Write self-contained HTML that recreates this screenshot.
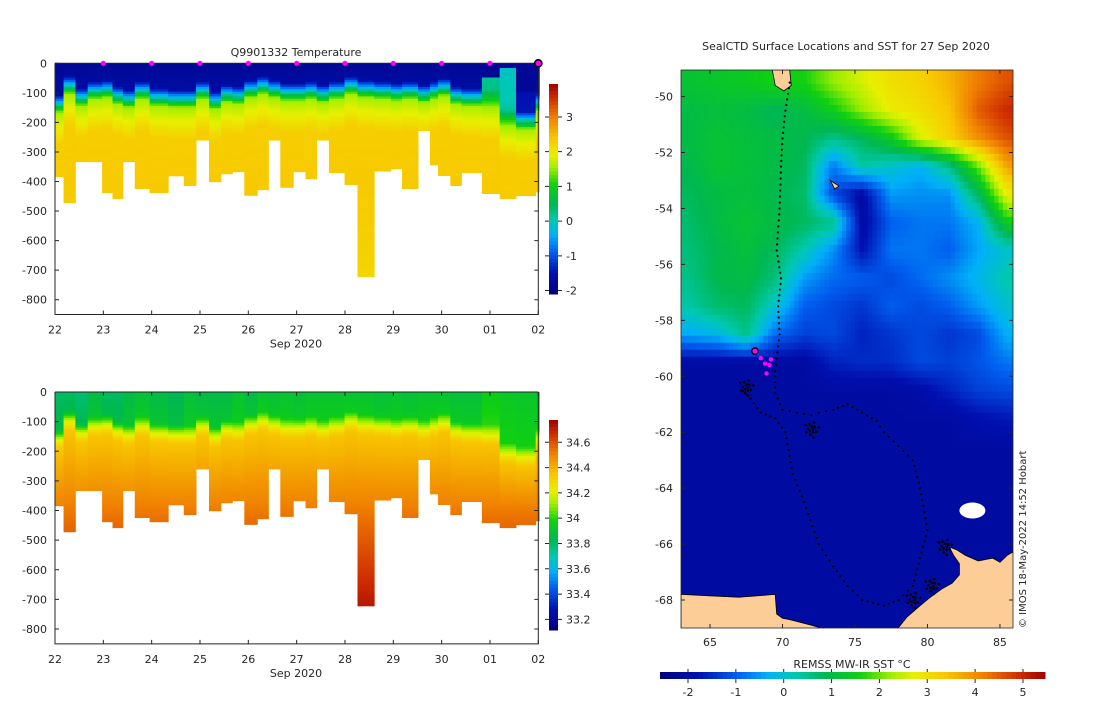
<!DOCTYPE html>
<html><head><meta charset="utf-8">
<style>
html,body{margin:0;padding:0;background:#fff;}
body{width:1100px;height:700px;overflow:hidden;font-family:"DejaVu Sans","Liberation Sans",sans-serif;}
svg text{font-family:"DejaVu Sans","Liberation Sans",sans-serif;fill:#262626;}
</style></head>
<body>
<svg id="fig" width="1100" height="700" viewBox="0 0 1100 700" xmlns="http://www.w3.org/2000/svg">
<defs><clipPath id="mapclip"><rect x="681" y="70" width="332" height="558"/></clipPath></defs>
<g id="gT"></g>
<g id="gS"></g>
<g id="gMc" clip-path="url(#mapclip)"></g>
<g id="gM"></g>
</svg>
<script>
// ---------- section data ----------
const colStart=[0,0.177,0.422,0.676,0.975,1.19,1.405,1.651,1.958,2.343,2.665,2.919,3.187,3.433,3.671,3.917,4.186,4.416,4.662,4.931,5.184,5.415,5.668,5.991,6.259,6.605,6.951,7.181,7.512,7.757,7.926,8.18,8.41,8.833,9.201,9.539,9.946];
const colEnd=10.02;
const maxDepth=[384,472,333,333,438,458,333,424,438,381,414,260,401,374,367,447,428,260,420,367,391,260,370,411,722,365,357,424,228,344,380,414,370,441,458,448,435];
const clineDepth=[152,90,130,107,102,124,135,107,130,135,135,107,141,118,124,102,90,102,113,113,107,118,107,90,102,107,113,107,118,107,96,124,130,135,198,209,147];
const surfTemp=[-1.8,-1.8,-1.8,-1.8,-1.8,-1.8,-1.8,-1.8,-1.8,-1.8,-1.8,-1.8,-1.8,-1.8,-1.8,-1.8,-1.8,-1.8,-1.8,-1.8,-1.8,-1.8,-1.8,-1.8,-1.8,-1.8,-1.8,-1.8,-1.8,-1.8,-1.8,-1.8,-1.8,0.1,-0.1,-1.6,-1.8];
const surfTop=[0,0,0,0,0,0,0,0,0,0,0,0,0,0,0,0,0,0,0,0,0,0,0,0,0,0,0,0,0,0,0,0,0,50,15,95,0];
const surfSal=[33.8,33.8,33.78,33.85,33.8,33.8,33.85,33.88,33.85,33.82,33.88,33.85,33.85,33.85,33.9,33.85,33.9,33.88,33.9,33.88,33.9,33.9,33.9,33.9,33.9,33.88,33.9,33.88,33.9,33.9,33.9,33.88,33.88,33.95,33.93,33.92,33.9];
const dayTicks=["22","23","24","25","26","27","28","29","30","01","02"];
const depthTicks=[0,-100,-200,-300,-400,-500,-600,-700,-800];
const markerDays=[1,2,3,4,5,6,7,8,9];
const tempTicks=[3,2,1,0,-1,-2];
const salTicks=["34.6","34.4","34.2","34","33.8","33.6","33.4","33.2"];
// ---------- map data ----------
const sstLats=[-49.5,-50.5,-51.5,-52.5,-53.5,-54.5,-55.5,-56.5,-57.5,-58.5,-59.5,-60.5,-61.5,-62.5,-69];
const sstLons=[63.5,65.5,67.5,69.5,71.5,73.5,75.5,77.5,79.5,81.5,83.5,85.5];
const sstGrid=[
[1.2,1.3,1.4,1.6,1.6,2.2,2.6,3.0,3.2,3.6,4.2,4.6],
[1.0,1.1,1.0,0.8,1.0,1.5,2.2,2.8,3.0,3.4,4.5,5.0],
[1.0,1.2,1.1,1.0,0.9,0.5,0.8,1.4,2.6,3.2,4.0,4.6],
[0.9,1.2,1.1,1.0,0.8,-0.8,0.3,0.0,-0.3,0.5,2.0,3.8],
[0.8,1.0,1.1,0.9,0.7,-1.2,-2.0,-0.5,-0.6,-0.6,0.8,2.8],
[0.7,1.0,1.2,1.0,0.8,0.5,-2.0,-1.0,-0.8,-0.8,-0.3,1.5],
[0.6,0.9,1.1,0.8,0.2,-0.6,-1.8,-0.8,-0.8,-1.0,-0.4,0.0],
[0.5,0.9,1.0,0.6,-0.5,-0.9,-1.0,-1.2,-0.9,-0.6,-0.2,0.3],
[0.3,0.7,0.8,0.0,-1.0,-1.2,-1.4,-1.0,-1.2,-1.0,-0.5,0.0],
[-0.4,-0.2,0.5,-0.9,-1.3,-1.2,-1.6,-1.4,-1.2,-1.4,-1.2,-0.3],
[-2.0,-2.0,-2.0,-2.0,-2.0,-1.6,-1.5,-1.5,-1.2,-1.3,-1.1,-0.8],
[-2.0,-2.0,-2.0,-2.0,-2.0,-2.0,-2.0,-2.0,-1.9,-1.6,-1.3,-1.2],
[-2.0,-2.0,-2.0,-2.0,-2.0,-2.0,-2.0,-2.0,-2.0,-2.0,-1.8,-1.7],
[-2.0,-2.0,-2.0,-2.0,-2.0,-2.0,-2.0,-2.0,-2.0,-2.0,-2.0,-2.0],
[-2.0,-2.0,-2.0,-2.0,-2.0,-2.0,-2.0,-2.0,-2.0,-2.0,-2.0,-2.0]];
const trackLon=[70.5,70.2,70.0,69.9,69.8,69.6,69.9,69.7,69.8,69.5,69.5,70.0,71.0,72.0,72.5,73.5,74.5,75.5,76.5,77.0,78.0,79.0,79.5,80.0,79.5,79.0,78.0,77.0,75.5,74.5,73.5,72.5,71.5,70.7,70.2,69.5,68.5,67.8,67.0];
const trackLat=[-49.5,-50.5,-51.5,-52.5,-54.0,-55.5,-56.5,-57.5,-58.5,-59.8,-60.6,-61.2,-61.3,-61.4,-61.3,-61.2,-61.0,-61.3,-61.6,-62.0,-62.5,-63.0,-64.0,-65.5,-66.5,-67.5,-68.0,-68.2,-68.0,-67.5,-66.8,-66.0,-64.5,-63.5,-62.0,-61.5,-61.3,-60.8,-60.4];
const clusterLon=[72.0,81.2,80.3,79.0,67.5];
const clusterLat=[-61.9,-66.1,-67.5,-68.0,-60.4];
const surfLon=[68.1,68.5,68.8,69.1,68.9,69.2];
const surfLat=[-59.1,-59.35,-59.55,-59.6,-59.9,-59.4];
const lonTicks=[65,70,75,80,85];
const latTicks=[-50,-52,-54,-56,-58,-60,-62,-64,-66,-68];
const sstTicks=[-2,-1,0,1,2,3,4,5];
const landLon=[63,65,67,69.5,69.6,70,70.5,72,73,63];
const landLat=[-67.8,-67.85,-67.9,-67.8,-68.5,-68.65,-68.7,-68.9,-69.05,-69.05];
const land2Lon=[77.9,78.6,79.5,80.2,81,81.7,82.2,82.2,81.8,81.5,82.0,82.6,83.5,84.5,85,85.5,86,86,77.9];
const land2Lat=[-69.05,-68.6,-68.2,-67.9,-67.6,-67.4,-67.1,-66.7,-66.4,-66.1,-66.2,-66.4,-66.6,-66.5,-66.65,-66.4,-66.25,-69.05,-69.05];

// ---------- helpers ----------
const NS="http://www.w3.org/2000/svg";
function mk(tag,parent,attrs){const e=document.createElementNS(NS,tag);for(const k in attrs)e.setAttribute(k,attrs[k]);parent.appendChild(e);return e;}
const stops=[[0,[0,0,122]],[0.1,[0,16,176]],[0.2,[0,96,240]],[0.28,[0,176,248]],[0.35,[0,200,176]],[0.43,[0,184,80]],[0.52,[16,208,16]],[0.6,[160,238,0]],[0.66,[232,240,0]],[0.74,[248,200,0]],[0.84,[240,128,0]],[0.93,[208,48,0]],[1,[160,0,0]]];
function cmap(t){t=Math.max(0,Math.min(1,t));for(let i=1;i<stops.length;i++){if(t<=stops[i][0]){const a=stops[i-1],b=stops[i];const f=(t-a[0])/(b[0]-a[0]);const c=a[1].map((v,j)=>Math.round(v+(b[1][j]-v)*f));return `rgb(${c[0]},${c[1]},${c[2]})`;}}return 'rgb(160,0,0)';}
function txt(parent,x,y,s,anchor,size,name){const t=mk('text',parent,{x:x,y:y,'text-anchor':anchor||'middle','font-size':size||11});t.textContent=s;return t;}

function tempProfile(i,d){const tc=clineDepth[i],s=surfTemp[i];
  if(d<surfTop[i])return -1.8;
  if(d<tc-45)return s+(d/(tc-45))*0.15;
  if(d<tc+15){const f=(d-(tc-45))/60;return s+0.15+(1.55-s-0.15)*f;}
  if(d<tc+120)return 1.55+0.75*(d-tc-15)/105;
  return 2.3+0.05*Math.min(1,(d-tc-120)/150)-0.15*Math.max(0,(d-450)/300);}
function salProfile(i,d){const tc=clineDepth[i],s=surfSal[i];
  if(d<tc-25)return s+0.05*d/Math.max(1,tc-25);
  if(d<tc+10){const f=(d-(tc-25))/35;return s+0.05+(34.2-s-0.05)*f;}
  if(d<tc+40)return 34.2+0.15*(d-tc-10)/30;
  if(d<400)return 34.35+0.17*(d-tc-40)/Math.max(1,360-tc);
  return 34.52+0.2*Math.min(1,(d-400)/320);}

function section(g,y0,pxm,fn,vmin,vmax,title,cbTop,cbBot,cbTicks,cbTickVal,nm){
  const xOf=day=>55+day*48.33, yOf=d=>y0+d*pxm;
  if(title)txt(g,296,56,title,'middle',11,'section-title');
  for(let i=0;i<colStart.length;i++){
    const x1=xOf(colStart[i]),x2=xOf(i+1<colStart.length?colStart[i+1]:colEnd);
    for(let d=0;d<maxDepth[i];d+=8){
      const dd=Math.min(8,maxDepth[i]-d);
      const v=fn(i,d+dd/2);
      const r=mk('rect',g,{x:x1.toFixed(2),y:yOf(d).toFixed(2),width:(x2-x1+0.4).toFixed(2),height:(dd*pxm+0.4).toFixed(2),fill:cmap((v-vmin)/(vmax-vmin))});
      
      
    }
  }
  const yb=y0+850*pxm;
  const ax=mk('path',g,{d:`M55,${y0}V${yb}H538.3V${y0}M55,${y0}H538.3`,stroke:'#262626','stroke-width':1,fill:'none'});
  
  depthTicks.forEach(v=>{const y=yOf(-v);mk('path',g,{d:`M55,${y}h4M538.3,${y}h-4`,stroke:'#262626'});txt(g,47,y+4,String(v),'end',11,'y-tick-label');});
  dayTicks.forEach((s,k)=>{const x=xOf(k);mk('path',g,{d:`M${x},${yb}v-4M${x},${y0}v4`,stroke:'#262626'});txt(g,x,yb+19,s,'middle',11,'x-tick-label');});
  txt(g,296,yb+33,'Sep 2020','middle',11,'x-axis-title');
  const n=60;for(let k=0;k<n;k++){const y=cbTop+(cbBot-cbTop)*k/n;const v=vmax-(vmax-vmin)*(k+0.5)/n;
    const r=mk('rect',g,{x:549,y:y.toFixed(2),width:9,height:((cbBot-cbTop)/n+0.5).toFixed(2),fill:cmap((v-vmin)/(vmax-vmin))});
    }
  cbTicks.forEach((s,k)=>{const v=cbTickVal[k];const y=cbBot-(v-vmin)/(vmax-vmin)*(cbBot-cbTop);
    mk('path',g,{d:`M558,${y}h4M549,${y}h-4`,stroke:'#262626'});txt(g,566,y+4,s,'start',11,'colorbar-tick-label');});
  return {xOf,yOf};
}
const gT=document.getElementById('gT'),gS=document.getElementById('gS'),gM=document.getElementById('gM'),gMc=document.getElementById('gMc');
const T=section(gT,63.3,0.2955,tempProfile,-2.1,3.95,'Q9901332  Temperature',84,294,tempTicks.map(String),tempTicks,'temperature');
section(gS,392,0.2963,salProfile,33.116,34.776,null,420,630,salTicks,salTicks.map(Number),'salinity');
markerDays.forEach(d=>{const c=mk('circle',gT,{cx:T.xOf(d),cy:63.3,r:2.6,fill:'#ff00ff'});});
{const c=mk('circle',gT,{cx:T.xOf(10),cy:63.3,r:3.6,fill:'#ff00ff',stroke:'#000','stroke-width':1.6});}

// ---------- map ----------
const MX0=681,MX1=1013,MY0=70,MY1=628,LON0=63,LON1=85.9,LAT0=-49.05,LAT1=-69.0;
const mx=lon=>MX0+(lon-LON0)/(LON1-LON0)*(MX1-MX0);
const my=lat=>MY0+(lat-LAT0)/(LAT1-LAT0)*(MY1-MY0);
txt(gM,846,50,'SealCTD Surface Locations and SST for 27 Sep 2020','middle',11,'map-title');
function sstAt(lon,lat){
  let i=0;while(i<sstLats.length-2&&lat<sstLats[i+1])i++;
  let fi=(lat-sstLats[i])/(sstLats[i+1]-sstLats[i]);fi=Math.max(0,Math.min(1,fi));
  let j=0;while(j<sstLons.length-2&&lon>sstLons[j+1])j++;
  let fj=(lon-sstLons[j])/(sstLons[j+1]-sstLons[j]);fj=Math.max(0,Math.min(1,fj));
  const a=sstGrid[i][j]*(1-fj)+sstGrid[i][j+1]*fj,b=sstGrid[i+1][j]*(1-fj)+sstGrid[i+1][j+1]*fj;
  return a*(1-fi)+b*fi;}
const SMIN=-2.585,SMAX=5.46;
for(let lat=LAT0;lat>LAT1;lat-=0.25){for(let lon=LON0;lon<LON1;lon+=0.3){
  const v=sstAt(lon+0.15,lat-0.125);
  const r=mk('rect',gMc,{x:mx(lon).toFixed(2),y:my(lat).toFixed(2),width:(0.3*14.5+0.5).toFixed(2),height:(0.25*27.97+0.5).toFixed(2),fill:cmap((v-SMIN)/(SMAX-SMIN))});
  }}
function poly(lons,lats,fill,name){const p=mk('polygon',gMc,{points:lons.map((l,k)=>mx(l).toFixed(1)+','+my(lats[k]).toFixed(1)).join(' '),fill:fill,stroke:'#000','stroke-width':0.8});}
poly(landLon,landLat,'#fdcd98','antarctica-west');
poly(land2Lon,land2Lat,'#fdcd98','antarctica-east');
poly([69.3,70.5,70.6,70.1,69.5],[-49.05,-49.05,-49.6,-49.8,-49.6],'#fdcd98','kerguelen-island');
poly([73.3,73.9,73.6],[-53.0,-53.2,-53.3],'#fdcd98','heard-island');
{const e=mk('ellipse',gMc,{cx:mx(83.1),cy:my(-64.8),rx:13,ry:8,fill:'#fff'});}
for(let k=0;k<trackLon.length-1;k++){const x1=mx(trackLon[k]),y1=my(trackLat[k]),x2=mx(trackLon[k+1]),y2=my(trackLat[k+1]);
  const L=Math.hypot(x2-x1,y2-y1),n=Math.max(1,Math.round(L/6));
  for(let s=0;s<n;s++){const c=mk('circle',gM,{cx:(x1+(x2-x1)*s/n).toFixed(1),cy:(y1+(y2-y1)*s/n).toFixed(1),r:1.1,fill:'#000'});}}
clusterLon.forEach((l,k)=>{for(let s=0;s<14;s++){const a=s*2.4,rr=1.5+s*0.45;const c=mk('circle',gM,{cx:(mx(l)+rr*Math.cos(a)).toFixed(1),cy:(my(clusterLat[k])+rr*Math.sin(a)*1.3).toFixed(1),r:1.3,fill:'#000'});}});
surfLon.forEach((l,k)=>{const c=mk('circle',gM,{cx:mx(l),cy:my(surfLat[k]),r:k==0?3.2:2.2,fill:'#ff00ff',stroke:k==0?'#000':'none','stroke-width':1.4});});
{const b=mk('rect',gM,{x:MX0,y:MY0,width:MX1-MX0,height:MY1-MY0,fill:'none',stroke:'#262626','stroke-width':0.8});}
lonTicks.forEach(v=>{const x=mx(v);mk('path',gM,{d:`M${x},${MY1}v-4M${x},${MY0}v4`,stroke:'#262626'});txt(gM,x,646,String(v),'middle',11,'lon-tick-label');});
latTicks.forEach(v=>{const y=my(v);mk('path',gM,{d:`M${MX0},${y}h4M${MX1},${y}h-4`,stroke:'#262626'});txt(gM,673,y+4,String(v),'end',11,'lat-tick-label');});
{const t=txt(gM,0,0,'© IMOS 18-May-2022 14:52 Hobart','start',10,'credit-text');t.setAttribute('transform','translate(1026,628) rotate(-90)');}
txt(gM,852,668,'REMSS MW-IR SST °C','middle',11,'sst-colorbar-title');
for(let k=0;k<80;k++){const x=660+385*k/80;const v=SMIN+(SMAX-SMIN)*(k+0.5)/80;const r=mk('rect',gM,{x:x.toFixed(2),y:672,width:(385/80+0.5).toFixed(2),height:7,fill:cmap((v-SMIN)/(SMAX-SMIN))});}
sstTicks.forEach(v=>{const x=660+(v-SMIN)/(SMAX-SMIN)*385;mk('path',gM,{d:`M${x},679v4M${x},672v-3`,stroke:'#262626'});txt(gM,x,696,String(v),'middle',11,'sst-colorbar-tick');});
</script>
</body></html>
